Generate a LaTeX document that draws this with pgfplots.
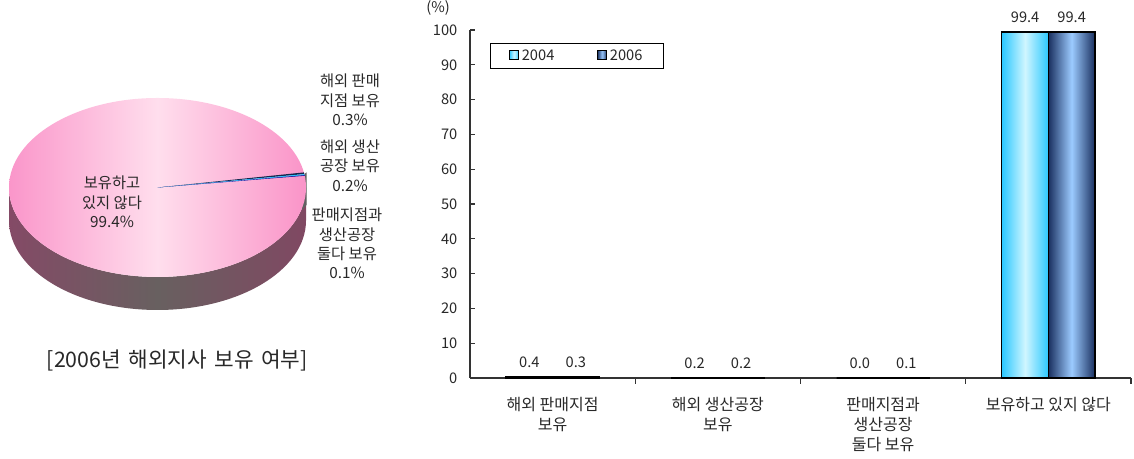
\documentclass[border=0pt]{standalone}
\usepackage{fontspec}
\setmainfont{Noto Sans CJK KR}
\usepackage{pgfplots}
\pgfplotsset{compat=1.18}
\definecolor{cA}{HTML}{2CC8FF}
\definecolor{cAm}{HTML}{D0F6FF}
\definecolor{cB}{HTML}{1A3060}
\definecolor{cBm}{HTML}{9CCBFF}
\definecolor{pkL}{RGB}{250,150,202}
\definecolor{pkM}{RGB}{255,222,237}
\definecolor{pkR}{RGB}{250,148,200}
\definecolor{sdL}{RGB}{132,74,102}
\definecolor{sdM}{RGB}{104,96,96}
\definecolor{sdR}{RGB}{128,72,98}
\definecolor{txt}{RGB}{40,40,40}
% pie data (percent)
\def\vNo{99.4}\def\vA{0.3}\def\vB{0.2}\def\vC{0.1}
\def\cx{157.5}\def\cy{271.5}\def\rx{148.5}\def\ry{89.5}
\pgfmathsetmacro\aA{9.7}
\pgfmathsetmacro\aB{\aA-\vA*3.6}
\pgfmathsetmacro\aC{\aB-\vB*3.6}
\pgfmathsetmacro\aD{\aC-\vC*3.6}
\pgfmathsetmacro\xA{\cx+\rx*cos(\aA)}\pgfmathsetmacro\yA{\cy+\ry*sin(\aA)}
\pgfmathsetmacro\xB{\cx+\rx*cos(\aB)}\pgfmathsetmacro\yB{\cy+\ry*sin(\aB)}
\pgfmathsetmacro\xC{\cx+\rx*cos(\aC)}\pgfmathsetmacro\yC{\cy+\ry*sin(\aC)}
\pgfmathsetmacro\xD{\cx+\rx*cos(\aD)}\pgfmathsetmacro\yD{\cy+\ry*sin(\aD)}
\begin{document}
\begin{tikzpicture}
\useasboundingbox (0pt,0pt) rectangle (850.5pt,344.25pt);
% ---------- pie (hidden axis, 1 unit = 1 px) ----------
\begin{axis}[at={(0pt,0pt)}, anchor=south west, scale only axis,
  width=850.5pt, height=344.25pt, xmin=0, xmax=1134, ymin=0, ymax=459,
  hide axis, clip=false]
\shade[left color=sdL, right color=sdR, middle color=sdM]
  (axis cs:9,271.5) -- (axis cs:9,238.5)
  arc[start angle=180, end angle=360, x radius=111.375pt, y radius=67.125pt]
  -- (axis cs:306,271.5)
  arc[start angle=360, end angle=180, x radius=111.375pt, y radius=67.125pt] -- cycle;
\fill[black!62] (axis cs:302,\yD) -- (axis cs:306.5,\yA) -- (axis cs:306.5,254) -- (axis cs:302,249) -- cycle;
\shade[left color=pkL, right color=pkR, middle color=pkM]
  (axis cs:157.5,271.5) ellipse[x radius=111.375pt, y radius=67.125pt];
\fill[cB!80!black] (axis cs:\cx,\cy) -- (axis cs:\xA,\yA) -- (axis cs:\xB,\yB) -- cycle;
\fill[cA] (axis cs:\cx,\cy) -- (axis cs:\xB,\yB) -- (axis cs:\xC,\yC) -- cycle;
\fill[blue!60!black] (axis cs:\cx,\cy) -- (axis cs:\xC,\yC) -- (axis cs:\xD,\yD) -- cycle;
\end{axis}
% pie labels
\begin{scope}[every node/.style={align=center, text=txt, font=\fontsize{11.5}{14.5}\selectfont}]
\node at (84pt,192.75pt) {보유하고\\있지 않다\\99.4\%};
\node at (262.5pt,269.25pt) {해외 판매\\지점 보유\\0.3\%};
\node at (262.5pt,220pt) {해외 생산\\공장 보유\\0.2\%};
\node at (260.25pt,161.6pt) {판매지점과\\생산공장\\둘다 보유\\0.1\%};
\end{scope}
\node[text=txt, font=\fontsize{16}{18}\selectfont] at (133pt,74.25pt) {[2006년\hspace{0.35em}해외지사\hspace{0.35em}보유\hspace{0.35em}여부]};
\node[text=txt, font=\fontsize{11}{13}\selectfont] at (328.5pt,338.5pt) {(\%)};
% ---------- bar chart ----------
\begin{axis}[at={(352.5pt,60.75pt)}, anchor=south west, scale only axis,
  width=495.75pt, height=261pt,
  ymin=0, ymax=100, ytick={0,10,...,100},
  xmin=-0.5, xmax=3.5, xtick={0,1,2,3},
  xticklabels={{해외 판매지점\\보유},{해외 생산공장\\보유},{판매지점과\\생산공장\\둘다 보유},{보유하고 있지 않다}},
  major x tick style={draw=none},
  minor xtick={0.5,1.5,2.5,3.5},
  axis lines=left, axis line style={-, black!80, line width=0.9pt},
  tick style={black!80, line width=0.8pt},
  tick align=inside, major tick length=4pt, minor tick length=4.5pt,
  /pgf/number format/assume math mode=true,
  yticklabel style={font=\fontsize{11}{13}\selectfont, text=txt, xshift=-6pt},
  xticklabel style={align=center, font=\fontsize{12}{15}\selectfont, text=txt, yshift=-7pt},
  ybar, bar width=34.9pt,
  nodes near coords,
  nodes near coords style={font=\fontsize{11}{13}\selectfont, text=txt, yshift=3pt,
    /pgf/number format/fixed, /pgf/number format/fixed zerofill, /pgf/number format/precision=1},
  legend style={at={(0.03,0.963)}, anchor=north west, draw=black, line width=0.8pt,
    font=\fontsize{11}{13}\selectfont, text=txt, legend columns=2,
    inner xsep=14pt, inner ysep=2.5pt,
    /tikz/every even column/.append style={column sep=30pt}},
  legend image code/.code={\draw[#1, draw=black, line width=0.6pt] (0pt,-3pt) rectangle (7pt,4pt);},
  clip=false]
% 2004
\addplot[bar shift=-17.45pt, draw=black, line width=0.9pt, left color=cA, right color=cA, middle color=cAm]
  coordinates {(0,0.4) (1,0.2) (2,0.0)};
% 2006
\addplot[bar shift=17.45pt, draw=black, line width=0.9pt, left color=cB, right color=cB, middle color=cBm]
  coordinates {(0,0.3) (1,0.2) (2,0.1)};
\addplot[forget plot, bar shift=-17.45pt, draw=black, line width=0.9pt, left color=cA, right color=cA, middle color=cAm]
  coordinates {(3,99.4)};
\addplot[forget plot, bar shift=17.45pt, draw=black, line width=0.9pt, left color=cB, right color=cB, middle color=cBm]
  coordinates {(3,99.4)};
\legend{2004,2006}
\end{axis}
\end{tikzpicture}
\end{document}
